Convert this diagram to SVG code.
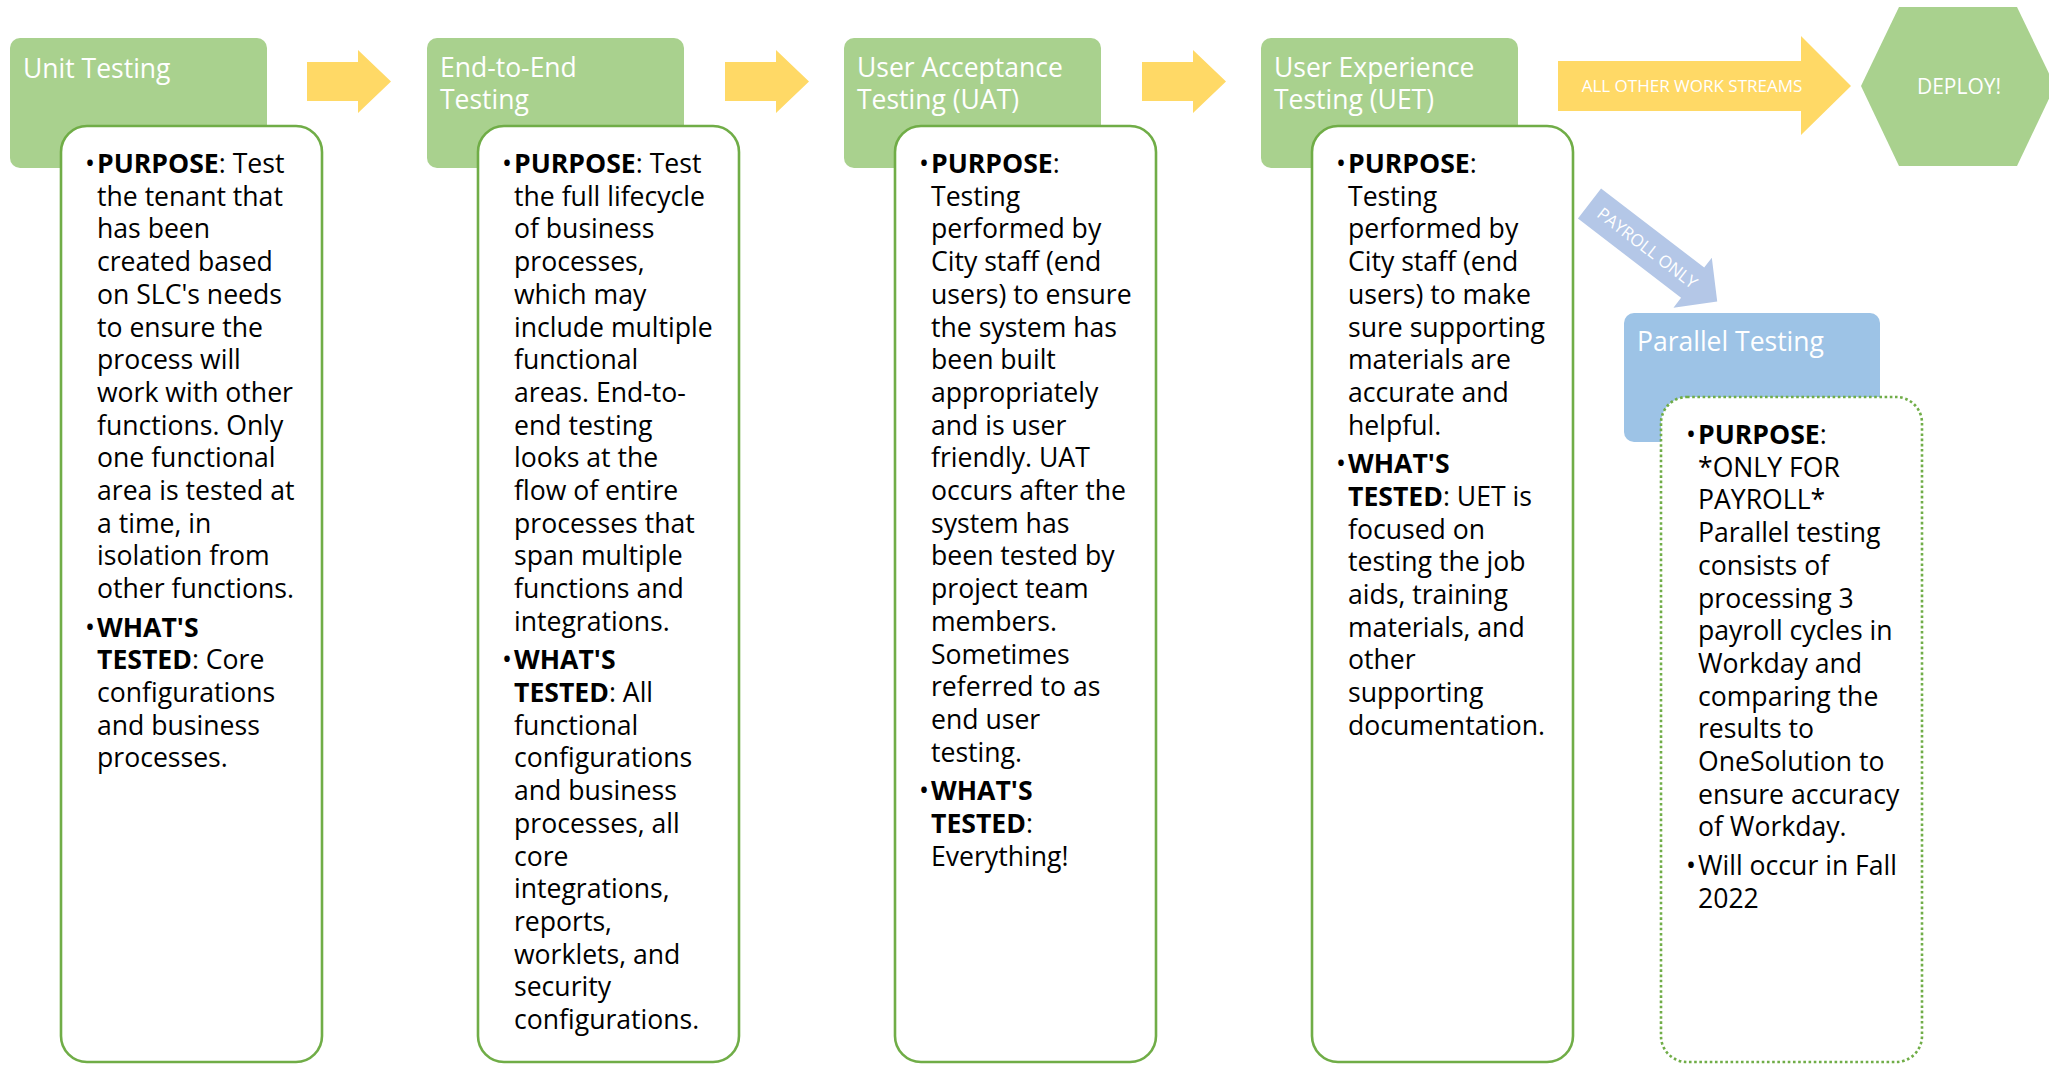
<svg xmlns="http://www.w3.org/2000/svg" width="2049" height="1070" viewBox="0 0 2049 1070">
  <style>
    .hdr { fill: #A9D18E; }
    .hdr-blue { fill: #9DC3E6; }
    .card { fill: #ffffff; stroke: #70AD47; stroke-width: 2.6; }
    .card-dotted { fill: #ffffff; stroke: #70AD47; stroke-width: 2.6; stroke-dasharray: 2.6 2.6; }
    .flow { fill: #FFD966; }
    .branch { fill: #B4C7E7; }
    .title { font-family: "Open Sans", "Noto Sans", "Liberation Sans", sans-serif; font-size: 26.5px; font-weight: 400; fill: #ffffff; }
    .body { font-family: "Open Sans", "Noto Sans", "Liberation Sans", sans-serif; font-size: 26.6px; fill: #000000; }
    .b { font-weight: 700; }
    .lbl { font-family: "Open Sans", "Noto Sans", "Liberation Sans", sans-serif; font-size: 17px; font-weight: 400; fill: #ffffff; }
    .deploy { font-family: "Open Sans", "Noto Sans", "Liberation Sans", sans-serif; font-size: 21px; font-weight: 400; fill: #ffffff; }
  </style>

  <!-- flow arrows between the testing stages -->
  <g id="connectors">
    <polygon class="flow" points="307,62 358,62 358,50 391,81.5 358,113 358,101 307,101"/>
    <polygon class="flow" points="725,62 776,62 776,50 809,81.5 776,113 776,101 725,101"/>
    <polygon class="flow" points="1142,62 1193,62 1193,50 1226,81.5 1193,113 1193,101 1142,101"/>
    <g id="arrow-other-streams">
      <polygon class="flow" points="1558,61 1801,61 1801,36 1851,86 1801,135 1801,111 1558,111"/>
      <text class="lbl" x="1692" y="92" text-anchor="middle">ALL OTHER WORK STREAMS</text>
    </g>
    <g id="arrow-payroll" transform="translate(1589.5,203.5) rotate(37.5)">
      <polygon class="branch" points="0,-19 130,-19 130,-31.5 161,0 130,31.5 130,19 0,19"/>
      <text class="lbl" x="73" y="6" text-anchor="middle">PAYROLL ONLY</text>
    </g>
  </g>

  <!-- Unit Testing -->
  <g id="unit-testing">
    <rect class="hdr" x="10" y="38" width="257" height="130" rx="10"/>
    <text class="title" x="23" y="78">Unit Testing</text>
    <rect class="card" x="61" y="126" width="261" height="936" rx="26"/>
    <text class="body">
      <tspan x="85" y="173">•</tspan><tspan x="97" class="b">PURPOSE</tspan><tspan>: Test</tspan>
      <tspan x="97" dy="32.7">the tenant that</tspan>
      <tspan x="97" dy="32.7">has been</tspan>
      <tspan x="97" dy="32.7">created based</tspan>
      <tspan x="97" dy="32.7">on SLC's needs</tspan>
      <tspan x="97" dy="32.7">to ensure the</tspan>
      <tspan x="97" dy="32.7">process will</tspan>
      <tspan x="97" dy="32.7">work with other</tspan>
      <tspan x="97" dy="32.7">functions. Only</tspan>
      <tspan x="97" dy="32.7">one functional</tspan>
      <tspan x="97" dy="32.7">area is tested at</tspan>
      <tspan x="97" dy="32.7">a time, in</tspan>
      <tspan x="97" dy="32.7">isolation from</tspan>
      <tspan x="97" dy="32.7">other functions.</tspan>
      <tspan x="85" dy="38.5">•</tspan><tspan x="97" class="b">WHAT'S</tspan>
      <tspan x="97" dy="32.7" class="b">TESTED</tspan><tspan>: Core</tspan>
      <tspan x="97" dy="32.7">configurations</tspan>
      <tspan x="97" dy="32.7">and business</tspan>
      <tspan x="97" dy="32.7">processes.</tspan>
    </text>
  </g>

  <!-- End-to-End Testing -->
  <g id="end-to-end-testing">
    <rect class="hdr" x="427" y="38" width="257" height="130" rx="10"/>
    <text class="title"><tspan x="440" y="77">End-to-End</tspan><tspan x="440" y="109">Testing</tspan></text>
    <rect class="card" x="478" y="126" width="261" height="936" rx="26"/>
    <text class="body">
      <tspan x="502" y="173">•</tspan><tspan x="514" class="b">PURPOSE</tspan><tspan>: Test</tspan>
      <tspan x="514" dy="32.7">the full lifecycle</tspan>
      <tspan x="514" dy="32.7">of business</tspan>
      <tspan x="514" dy="32.7">processes,</tspan>
      <tspan x="514" dy="32.7">which may</tspan>
      <tspan x="514" dy="32.7">include multiple</tspan>
      <tspan x="514" dy="32.7">functional</tspan>
      <tspan x="514" dy="32.7">areas. End-to-</tspan>
      <tspan x="514" dy="32.7">end testing</tspan>
      <tspan x="514" dy="32.7">looks at the</tspan>
      <tspan x="514" dy="32.7">flow of entire</tspan>
      <tspan x="514" dy="32.7">processes that</tspan>
      <tspan x="514" dy="32.7">span multiple</tspan>
      <tspan x="514" dy="32.7">functions and</tspan>
      <tspan x="514" dy="32.7">integrations.</tspan>
      <tspan x="502" dy="38.5">•</tspan><tspan x="514" class="b">WHAT'S</tspan>
      <tspan x="514" dy="32.7" class="b">TESTED</tspan><tspan>: All</tspan>
      <tspan x="514" dy="32.7">functional</tspan>
      <tspan x="514" dy="32.7">configurations</tspan>
      <tspan x="514" dy="32.7">and business</tspan>
      <tspan x="514" dy="32.7">processes, all</tspan>
      <tspan x="514" dy="32.7">core</tspan>
      <tspan x="514" dy="32.7">integrations,</tspan>
      <tspan x="514" dy="32.7">reports,</tspan>
      <tspan x="514" dy="32.7">worklets, and</tspan>
      <tspan x="514" dy="32.7">security</tspan>
      <tspan x="514" dy="32.7">configurations.</tspan>
    </text>
  </g>

  <!-- User Acceptance Testing -->
  <g id="user-acceptance-testing">
    <rect class="hdr" x="844" y="38" width="257" height="130" rx="10"/>
    <text class="title"><tspan x="857" y="77">User Acceptance</tspan><tspan x="857" y="109">Testing (UAT)</tspan></text>
    <rect class="card" x="895" y="126" width="261" height="936" rx="26"/>
    <text class="body">
      <tspan x="919" y="173">•</tspan><tspan x="931" class="b">PURPOSE</tspan><tspan>:</tspan>
      <tspan x="931" dy="32.7">Testing</tspan>
      <tspan x="931" dy="32.7">performed by</tspan>
      <tspan x="931" dy="32.7">City staff (end</tspan>
      <tspan x="931" dy="32.7">users) to ensure</tspan>
      <tspan x="931" dy="32.7">the system has</tspan>
      <tspan x="931" dy="32.7">been built</tspan>
      <tspan x="931" dy="32.7">appropriately</tspan>
      <tspan x="931" dy="32.7">and is user</tspan>
      <tspan x="931" dy="32.7">friendly. UAT</tspan>
      <tspan x="931" dy="32.7">occurs after the</tspan>
      <tspan x="931" dy="32.7">system has</tspan>
      <tspan x="931" dy="32.7">been tested by</tspan>
      <tspan x="931" dy="32.7">project team</tspan>
      <tspan x="931" dy="32.7">members.</tspan>
      <tspan x="931" dy="32.7">Sometimes</tspan>
      <tspan x="931" dy="32.7">referred to as</tspan>
      <tspan x="931" dy="32.7">end user</tspan>
      <tspan x="931" dy="32.7">testing.</tspan>
      <tspan x="919" dy="38.5">•</tspan><tspan x="931" class="b">WHAT'S</tspan>
      <tspan x="931" dy="32.7" class="b">TESTED</tspan><tspan>:</tspan>
      <tspan x="931" dy="32.7">Everything!</tspan>
    </text>
  </g>

  <!-- User Experience Testing -->
  <g id="user-experience-testing">
    <rect class="hdr" x="1261" y="38" width="257" height="130" rx="10"/>
    <text class="title"><tspan x="1274" y="77">User Experience</tspan><tspan x="1274" y="109">Testing (UET)</tspan></text>
    <rect class="card" x="1312" y="126" width="261" height="936" rx="26"/>
    <text class="body">
      <tspan x="1336" y="173">•</tspan><tspan x="1348" class="b">PURPOSE</tspan><tspan>:</tspan>
      <tspan x="1348" dy="32.7">Testing</tspan>
      <tspan x="1348" dy="32.7">performed by</tspan>
      <tspan x="1348" dy="32.7">City staff (end</tspan>
      <tspan x="1348" dy="32.7">users) to make</tspan>
      <tspan x="1348" dy="32.7">sure supporting</tspan>
      <tspan x="1348" dy="32.7">materials are</tspan>
      <tspan x="1348" dy="32.7">accurate and</tspan>
      <tspan x="1348" dy="32.7">helpful.</tspan>
      <tspan x="1336" dy="38.5">•</tspan><tspan x="1348" class="b">WHAT'S</tspan>
      <tspan x="1348" dy="32.7" class="b">TESTED</tspan><tspan>: UET is</tspan>
      <tspan x="1348" dy="32.7">focused on</tspan>
      <tspan x="1348" dy="32.7">testing the job</tspan>
      <tspan x="1348" dy="32.7">aids, training</tspan>
      <tspan x="1348" dy="32.7">materials, and</tspan>
      <tspan x="1348" dy="32.7">other</tspan>
      <tspan x="1348" dy="32.7">supporting</tspan>
      <tspan x="1348" dy="32.7">documentation.</tspan>
    </text>
  </g>

  <!-- Deploy milestone -->
  <g id="deploy">
    <polygon class="hdr" points="1861,86 1899,7 2017,7 2055,86 2017,166 1899,166"/>
    <text class="deploy" x="1959" y="94" text-anchor="middle">DEPLOY!</text>
  </g>

  <!-- Parallel Testing (payroll only) -->
  <g id="parallel-testing">
    <rect class="hdr-blue" x="1624" y="313" width="256" height="129" rx="10"/>
    <text class="title" x="1637" y="351">Parallel Testing</text>
    <rect class="card-dotted" x="1661" y="397" width="261" height="665" rx="26"/>
    <text class="body">
      <tspan x="1686" y="444">•</tspan><tspan x="1698" class="b">PURPOSE</tspan><tspan>:</tspan>
      <tspan x="1698" dy="32.7">*ONLY FOR</tspan>
      <tspan x="1698" dy="32.7">PAYROLL*</tspan>
      <tspan x="1698" dy="32.7">Parallel testing</tspan>
      <tspan x="1698" dy="32.7">consists of</tspan>
      <tspan x="1698" dy="32.7">processing 3</tspan>
      <tspan x="1698" dy="32.7">payroll cycles in</tspan>
      <tspan x="1698" dy="32.7">Workday and</tspan>
      <tspan x="1698" dy="32.7">comparing the</tspan>
      <tspan x="1698" dy="32.7">results to</tspan>
      <tspan x="1698" dy="32.7">OneSolution to</tspan>
      <tspan x="1698" dy="32.7">ensure accuracy</tspan>
      <tspan x="1698" dy="32.7">of Workday.</tspan>
      <tspan x="1686" dy="38.5">•</tspan><tspan x="1698">Will occur in Fall</tspan>
      <tspan x="1698" dy="32.7">2022</tspan>
    </text>
  </g>
</svg>
